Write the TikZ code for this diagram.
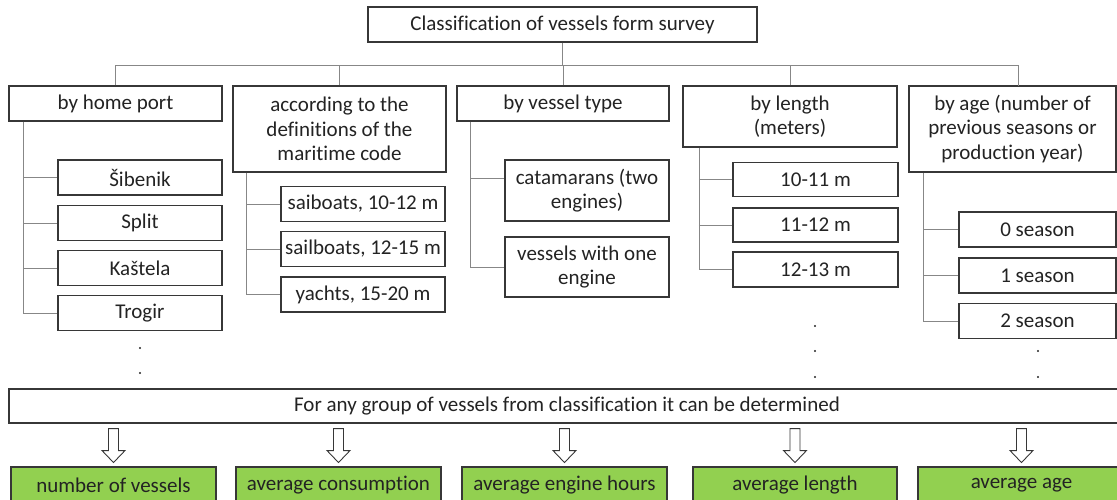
\documentclass[tikz,border=0pt]{standalone}
\usepackage{fontspec}
\setmainfont{Carlito}[Ligatures={NoCommon}]
\definecolor{boxline}{RGB}{55,55,55}
\definecolor{connline}{RGB}{135,135,135}
\definecolor{greenfill}{RGB}{146,208,80}
\definecolor{txt}{RGB}{35,35,35}
\tikzset{
  box/.style={draw=boxline, line width=1.1pt, fill=white, inner sep=0pt, align=center, text=txt, font=\fontsize{21}{24.5}\selectfont},
  gbox/.style={box, fill=greenfill},
  conn/.style={draw=connline, line width=0.9pt},
  barrow/.style={draw=boxline, line width=0.9pt, fill=white, line join=miter},
  dotmark/.style={fill=txt}
}
\newcommand{\blockarrow}[1]{\draw[barrow] (#1) ++(-5,5) -- ++(0,22) -- ++(-6.5,0) -- ++(11.5,12) -- ++(11.5,-12) -- ++(-6.5,0) -- ++(0,-22) -- cycle;}
\begin{document}
\begin{tikzpicture}[x=1pt,y=-1pt]
\useasboundingbox (0,0) rectangle (1117,500);
\clip (0,0) rectangle (1117,500);

% top
\node[box, minimum width=389, minimum height=35] (top) at (562.5,24.5) {Classification of vessels form survey};

% categories
\node[box, minimum width=213, minimum height=35] (hp)  at (115.5,103.5) {by home port};
\node[box, minimum width=213, minimum height=86] (acc) at (339.5,129) {according to the\\definitions of the\\maritime code};
\node[box, minimum width=212, minimum height=35] (vt)  at (563,103.5) {by vessel type};
\node[box, minimum width=214, minimum height=61] (len) at (790,116.5) {by length\\(meters)};
\node[box, minimum width=207, minimum height=86] (age) at (1012.5,129) {by age (number of\\previous seasons or\\production year)};

% home port subs
\node[box, minimum width=164, minimum height=35] (hp1) at (140,177.5) {Šibenik};
\node[box, minimum width=164, minimum height=35] (hp2) at (140,223) {Split};
\node[box, minimum width=164, minimum height=35] (hp3) at (140,268) {Kaštela};
\node[box, minimum width=164, minimum height=35] (hp4) at (140,313) {Trogir};

% maritime code subs
\node[box, minimum width=164, minimum height=35] (acc1) at (363,204) {saiboats, 10-12 m};
\node[box, minimum width=164, minimum height=35] (acc2) at (363,249) {sailboats, 12-15 m};
\node[box, minimum width=164, minimum height=35] (acc3) at (363,294.5) {yachts, 15-20 m};

% vessel type subs
\node[box, minimum width=164, minimum height=61] (vt1) at (587,190.5) {catamarans (two\\engines)};
\node[box, minimum width=164, minimum height=60] (vt2) at (587,267) {vessels with one\\engine};

% length subs
\node[box, minimum width=165, minimum height=34] (len1) at (815.5,179.5) {10-11 m};
\node[box, minimum width=165, minimum height=34] (len2) at (815.5,225) {11-12 m};
\node[box, minimum width=165, minimum height=35] (len3) at (815.5,269.5) {12-13 m};

% age subs
\node[box, minimum width=157, minimum height=35] (age1) at (1037.5,229.5) {0 season};
\node[box, minimum width=157, minimum height=35] (age2) at (1037.5,275.5) {1 season};
\node[box, minimum width=157, minimum height=35] (age3) at (1037.5,321) {2 season};

% bus
\coordinate (bus) at (0,65);
\coordinate (agej) at (1018,86);
\draw[conn] (top.south) -- (top.south |- bus);
\draw[conn] (hp.north |- bus) -- (agej |- bus);
\foreach \n in {hp,acc,vt,len} { \draw[conn] (\n.north) -- (\n.north |- bus); }
\draw[conn] (agej) -- (agej |- bus);

% sub trees
\coordinate (hpv) at ([xshift=15pt]hp.south west);
\draw[conn] (hpv) |- (hp4.west);
\foreach \n in {hp1,hp2,hp3} { \draw[conn] (hpv |- \n.west) -- (\n.west); }

\coordinate (accv) at ([xshift=14pt]acc.south west);
\draw[conn] (accv) |- (acc3.west);
\foreach \n in {acc1,acc2} { \draw[conn] (accv |- \n.west) -- (\n.west); }

\coordinate (vtv) at ([xshift=14pt]vt.south west);
\coordinate (vt1w) at ([yshift=12.5pt]vt1.west);
\draw[conn] (vtv) |- (vt2.west);
\draw[conn] (vtv |- vt1w) -- (vt1w);

\coordinate (lenv) at ([xshift=16.5pt]len.south west);
\draw[conn] (lenv) |- (len3.west);
\foreach \n in {len1,len2} { \draw[conn] (lenv |- \n.west) -- (\n.west); }

\coordinate (agev) at ([xshift=15pt]age.south west);
\draw[conn] (agev) |- (age3.west);
\foreach \n in {age1,age2} { \draw[conn] (agev |- \n.west) -- (\n.west); }

% dots
\fill[dotmark] (140,348) circle (1.2);
\fill[dotmark] (140,373) circle (1.2);
\fill[dotmark] (815,326) circle (1.2);
\fill[dotmark] (815,351) circle (1.2);
\fill[dotmark] (815,377) circle (1.2);
\fill[dotmark] (1038,351) circle (1.2);
\fill[dotmark] (1038,377) circle (1.2);

% big box
\node[box, minimum width=1116, minimum height=34] (big) at (567,406) {For any group of vessels from classification it can be determined};

% green boxes
\node[gbox, minimum width=205, minimum height=36] (g1) at (113.5,485) {number of vessels};
\node[gbox, minimum width=205, minimum height=36] (g2) at (338.5,485) {average consumption};
\node[gbox, minimum width=205, minimum height=36] (g3) at (564.5,485) {average engine hours};
\node[gbox, minimum width=204, minimum height=36] (g4) at (795,485) {average length};
\node[gbox, minimum width=207, minimum height=36] (g5) at (1021.5,485) {average age};

% block arrows
\blockarrow{big.south -| g1.north}
\blockarrow{big.south -| g2.north}
\blockarrow{big.south -| g3.north}
\blockarrow{big.south -| g4.north}
\blockarrow{big.south -| g5.north}
\end{tikzpicture}
\end{document}
